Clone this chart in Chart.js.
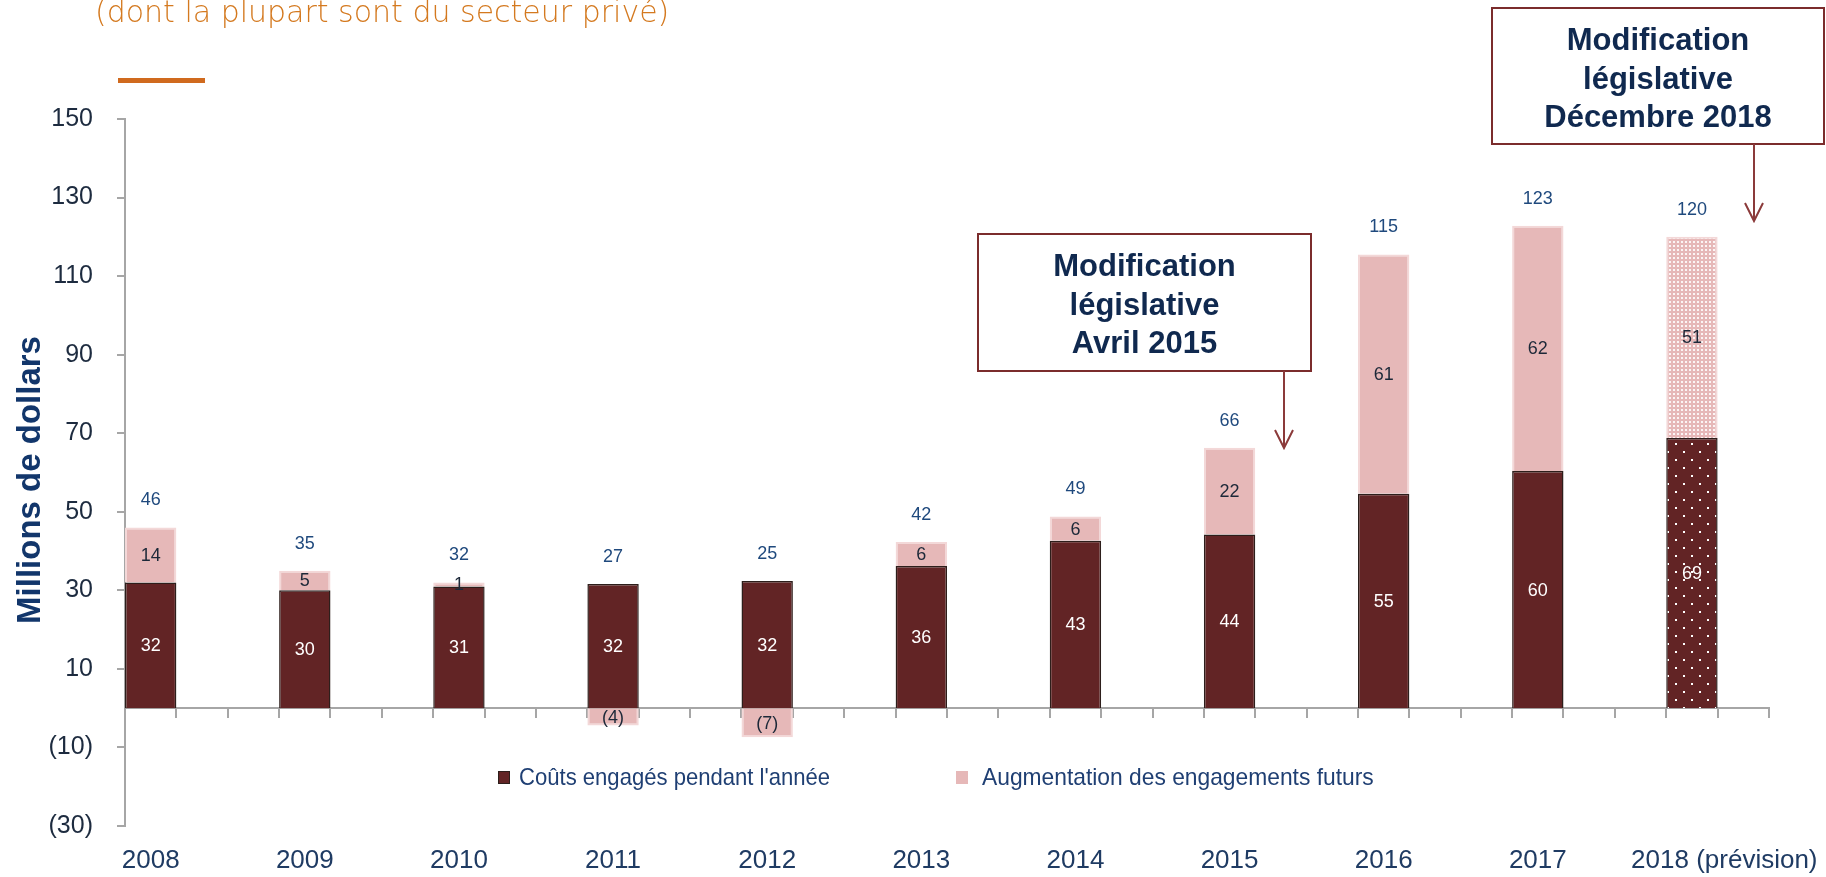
<!DOCTYPE html>
<html>
<head>
<meta charset="utf-8">
<script src="https://cdn.jsdelivr.net/npm/chart.js@4.4.0/dist/chart.umd.min.js"></script>
<style>
  html, body { margin: 0; padding: 0; background: #fff; }
  #wrap { position: relative; width: 1826px; height: 877px; }
</style>
</head>
<body>
<div id="wrap"><canvas id="grafico"></canvas></div>
<script>
// données (millions de dollars)
const annees = [2008, 2009, 2010, 2011, 2012, 2013, 2014, 2015, 2016, 2017, 2018];
const etiquettesAnnees = ["2008", "2009", "2010", "2011", "2012", "2013", "2014", "2015", "2016", "2017", "2018 (prévision)"];
const couts = [32, 30, 31, 31.6, 32.4, 36.2, 42.6, 44.2, 54.6, 60.4, 68.8];
const augmentation = [14, 5, 1, -4.4, -7.4, 6.1, 6.2, 22.1, 60.9, 62.4, 51.2];
const totaux = [46, 35, 32, 27, 25, 42, 49, 66, 115, 123, 120];

const BORDEAUX = "#622425";
const ROSE = "#e6b8b8";
const MARINE = "#10294f";

function motif(fond, taille, points, couleur) {
    const c = document.createElement("canvas");
    c.width = taille;
    c.height = taille;
    const g = c.getContext("2d");
    g.fillStyle = fond;
    g.fillRect(0, 0, taille, taille);
    g.fillStyle = couleur;
    points.forEach(([x, y, w, h]) => g.fillRect(x, y, w, h));
    return g.createPattern(c, "repeat");
}

const motifBordeaux = motif(BORDEAUX, 16, [[3, 3, 2, 2], [11, 11, 2, 2]], "#ffffff");
const motifRose = motif(ROSE, 4, [[1, 1, 2, 2]], "rgba(255,255,255,0.85)");

const fondCouts = annees.map((a, i) => i === annees.length - 1 ? motifBordeaux : BORDEAUX);
const fondAug = annees.map((a, i) => i === annees.length - 1 ? motifRose : ROSE);

const fmt = (v) => {
    const r = Math.round(v);
    return r < 0 ? `(${-r})` : String(r);
};

const xMin = annees[0] - 1 / 6;
const xMax = annees[annees.length - 1] + 0.5;

const etiquettes = {
    id: "etiquettes",
    afterDatasetsDraw(chart) {
        const ctx = chart.ctx;
        ctx.save();
        ctx.textAlign = "center";
        ctx.textBaseline = "middle";
        ctx.font = '18px "Liberation Sans", Arial, sans-serif';
        chart.data.datasets.forEach((ds, i) => {
            const meta = chart.getDatasetMeta(i);
            meta.data.forEach((barre, j) => {
                ctx.fillStyle = i === 0 ? "#ffffff" : "#1c2838";
                ctx.fillText(fmt(ds.data[j]), barre.x, (barre.y + barre.base) / 2 + 1);
            });
        });
        const metas = chart.data.datasets.map((ds, i) => chart.getDatasetMeta(i));
        ctx.fillStyle = "#1f497d";
        totaux.forEach((t, j) => {
            let haut = Infinity;
            let x = 0;
            metas.forEach((m) => {
                const b = m.data[j];
                haut = Math.min(haut, b.y, b.base);
                x = b.x;
            });
            ctx.fillText(String(t), x, haut - 27);
        });
        ctx.restore();
    }
};

const decor = {
    id: "decor",
    afterDraw(chart) {
        const ctx = chart.ctx;
        ctx.save();

        // sous-titre coupé en haut
        ctx.fillStyle = "#d4791f";
        ctx.font = '200 30px "DejaVu Sans", sans-serif';
        ctx.textAlign = "left";
        ctx.textBaseline = "alphabetic";
        ctx.fillText("(dont la plupart sont du secteur privé)", 95, 22);
        ctx.fillStyle = "#d06a1e";
        ctx.fillRect(118, 78, 87, 5);

        // titre de l'axe vertical
        ctx.save();
        ctx.translate(40, 480);
        ctx.rotate(-Math.PI / 2);
        ctx.textAlign = "center";
        ctx.fillStyle = "#12366b";
        ctx.font = 'bold 33px "Liberation Sans", Arial, sans-serif';
        ctx.fillText("Millions de dollars", 0, 0);
        ctx.restore();

        // légende
        ctx.textBaseline = "middle";
        ctx.font = '24px "Liberation Sans", Arial, sans-serif';
        ctx.fillStyle = BORDEAUX;
        ctx.fillRect(498, 771, 12, 13);
        ctx.strokeStyle = "#2d1e1b";
        ctx.lineWidth = 1;
        ctx.strokeRect(498.5, 771.5, 11, 12);
        ctx.fillStyle = ROSE;
        ctx.fillRect(956, 771, 12, 13);
        ctx.fillStyle = "#1f3f73";
        ctx.save();
        ctx.translate(519, 778);
        ctx.scale(0.92, 1);
        ctx.fillText(chart.data.datasets[0].label, 0, 0);
        ctx.restore();
        ctx.save();
        ctx.translate(982, 778);
        ctx.scale(0.95, 1);
        ctx.fillText(chart.data.datasets[1].label, 0, 0);
        ctx.restore();

        // encadrés
        const encadre = (x1, y1, x2, y2, lignes, fx, fy) => {
            ctx.strokeStyle = "#7b2c2c";
            ctx.lineWidth = 2;
            ctx.fillStyle = "#ffffff";
            ctx.fillRect(x1, y1, x2 - x1, y2 - y1);
            ctx.strokeRect(x1, y1, x2 - x1, y2 - y1);
            ctx.fillStyle = MARINE;
            ctx.font = 'bold 31px "Liberation Sans", Arial, sans-serif';
            ctx.textAlign = "center";
            ctx.textBaseline = "alphabetic";
            const cx = (x1 + x2) / 2;
            lignes.forEach((l, k) => ctx.fillText(l, cx, y1 + 42 + k * 38.5));
            // flèche
            ctx.strokeStyle = "#8b3a3a";
            ctx.lineWidth = 2;
            ctx.beginPath();
            ctx.moveTo(fx, y2);
            ctx.lineTo(fx, fy);
            ctx.moveTo(fx - 9, fy - 18);
            ctx.lineTo(fx, fy);
            ctx.lineTo(fx + 9, fy - 18);
            ctx.stroke();
        };
        encadre(978, 234, 1311, 371, ["Modification", "législative", "Avril 2015"], 1284, 448);
        encadre(1492, 8, 1824, 144, ["Modification", "législative", "Décembre 2018"], 1754, 221);

        ctx.restore();
    }
};

Chart.defaults.font.family = '"Liberation Sans", Arial, sans-serif';

new Chart(document.getElementById("grafico"), {
    type: "bar",
    data: {
        labels: annees,
        datasets: [
            {
                label: "Coûts engagés pendant l'année",
                data: couts,
                backgroundColor: fondCouts,
                borderColor: "#2d1e1b",
                borderWidth: 1.5,
                stack: "s",
                categoryPercentage: 1,
                barPercentage: 1 / 3
            },
            {
                label: "Augmentation des engagements futurs",
                data: augmentation,
                backgroundColor: fondAug,
                borderColor: "#f3d8d8",
                borderWidth: 2,
                stack: "s",
                categoryPercentage: 1,
                barPercentage: 1 / 3
            }
        ]
    },
    options: {
        responsive: true,
        maintainAspectRatio: false,
        animation: false,
        layout: { padding: { top: 119, right: 57, left: 0, bottom: 0 } },
        plugins: { legend: { display: false }, tooltip: { enabled: false } },
        scales: {
            x: {
                type: "linear",
                stacked: true,
                offset: false,
                min: xMin,
                max: xMax,
                grid: { display: false, drawTicks: false, offset: false },
                border: { display: false },
                afterBuildTicks: (s) => {
                    s.ticks = annees.map((a, i) => ({ value: i === annees.length - 1 ? a + 0.21 : a }));
                },
                afterFit: (s) => {
                    s.height = 51;
                    s.paddingLeft = 0;
                    s.paddingRight = 0;
                },
                ticks: {
                    autoSkip: false,
                    maxRotation: 0,
                    padding: 19.5,
                    color: "#1f3b63",
                    font: { size: 26 },
                    callback: (v, i) => etiquettesAnnees[i]
                }
            },
            x2: {
                type: "linear",
                position: { y: 0 },
                offset: false,
                min: xMin,
                max: xMax,
                z: 1,
                afterBuildTicks: (s) => {
                    const t = [];
                    for (let k = 0; k <= 32; k++) t.push({ value: xMin + k / 3 });
                    s.ticks = t;
                },
                grid: { offset: false, drawOnChartArea: false, drawTicks: true, tickLength: 9, color: "#a6a6a6", lineWidth: 2 },
                border: { display: true, color: "#a6a6a6", width: 2 },
                ticks: { display: false }
            },
            y: {
                stacked: true,
                min: -30,
                max: 150,
                z: 1,
                afterFit: (s) => {
                    s.width = 125;
                    s.paddingTop = 0;
                    s.paddingBottom = 0;
                },
                grid: { drawOnChartArea: false, drawTicks: true, tickLength: 8, color: "#a6a6a6", lineWidth: 2 },
                border: { display: true, color: "#a6a6a6", width: 2 },
                ticks: {
                    stepSize: 20,
                    padding: 24,
                    color: "#1d2b3f",
                    font: { size: 25 },
                    callback: (v) => v < 0 ? `(${-v})` : v
                }
            }
        }
    },
    plugins: [etiquettes, decor]
});
</script>
</body>
</html>
